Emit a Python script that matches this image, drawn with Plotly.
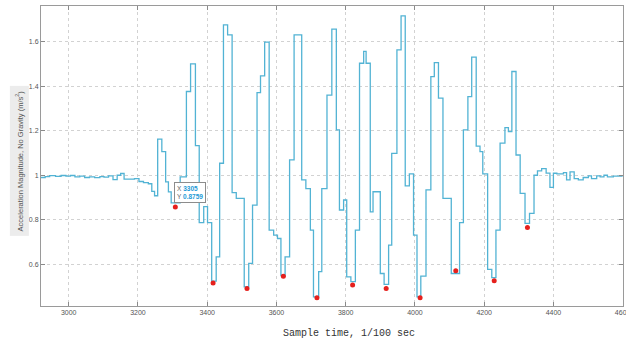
import plotly.graph_objects as go

# step change points (sample index) and the held level (m/s^2)
step_x = [2920, 2932, 2945, 2962, 2978, 2992, 3005, 3018, 3032, 3046, 3060, 3075, 3090, 3102, 3115,
          3128, 3140, 3150, 3160, 3190, 3203, 3216, 3230, 3240, 3248, 3257, 3269, 3280, 3288, 3296,
          3322, 3340, 3352, 3366, 3377, 3390, 3401, 3413, 3426, 3436, 3447, 3459, 3472, 3484, 3507,
          3520, 3531, 3544, 3554, 3566, 3579, 3592, 3603, 3613, 3625, 3638, 3651, 3673, 3685, 3698,
          3707, 3722, 3731, 3746, 3760, 3773, 3782, 3794, 3803, 3815, 3828, 3840, 3852, 3859, 3871,
          3879, 3900, 3911, 3924, 3933, 3948, 3960, 3972, 3984, 3996, 4006, 4017, 4032, 4046, 4056,
          4068, 4081, 4105, 4129, 4140, 4153, 4164, 4177, 4188, 4196, 4210, 4222, 4234, 4246, 4260,
          4270, 4280, 4292, 4304, 4318, 4331, 4344, 4354, 4366, 4379, 4390, 4400, 4410, 4429, 4438,
          4448, 4460, 4472, 4486, 4501, 4510, 4525, 4535, 4546, 4556, 4573, 4600]
step_y = [0.990, 0.994, 0.998, 0.995, 0.999, 0.996, 0.999, 0.993, 0.996, 0.990, 0.993, 0.989, 0.994, 0.992, 0.997,
          0.980, 1.000, 1.008, 0.983, 0.985, 0.972, 0.967, 0.962, 0.928, 0.908, 1.162, 1.106, 0.970, 0.925, 0.876,
          0.993, 1.376, 1.500, 1.133, 0.787, 0.859, 0.787, 0.525, 0.634, 1.054, 1.675, 1.630, 0.922, 0.896, 0.499,
          0.604, 0.866, 1.371, 1.446, 1.598, 0.754, 0.731, 0.716, 0.551, 0.634, 1.069, 1.630, 0.979, 0.940, 0.754,
          0.454, 0.567, 0.940, 1.360, 1.656, 1.204, 0.844, 0.889, 0.544, 0.522, 0.754, 1.503, 1.556, 1.503, 0.836,
          0.926, 0.559, 0.510, 0.686, 1.098, 1.563, 1.716, 0.952, 1.006, 0.731, 0.454, 0.547, 0.934, 1.443, 1.506,
          1.346, 0.896, 0.559, 0.787, 1.204, 1.353, 1.530, 1.131, 1.106, 1.006, 0.577, 0.540, 0.754, 1.144, 1.214,
          1.196, 1.466, 1.091, 0.919, 0.784, 0.829, 1.000, 1.020, 1.030, 1.010, 0.946, 1.009, 1.006, 1.012, 0.979,
          1.015, 0.985, 0.979, 0.990, 0.997, 0.985, 0.997, 0.993, 1.000, 0.993, 0.996, 0.996]

# detected minima (red dots)
min_x = [3308, 3417, 3515, 3620, 3717, 3820, 3917, 4015, 4118, 4229, 4325]
min_y = [0.858, 0.516, 0.492, 0.547, 0.450, 0.507, 0.492, 0.450, 0.571, 0.526, 0.765]

# data tip
tip_x = 3305
tip_y = 0.8759

x_tick_start, x_tick_step = 3000, 200
y_tick_start, y_tick_step = 0.6, 0.2

fig = go.Figure()
fig.add_trace(go.Scatter(x=step_x, y=step_y, mode="lines", line_shape="hv",
                         line=dict(color="#52b3d4", width=1.3), hoverinfo="skip"))
fig.add_trace(go.Scatter(x=min_x, y=min_y, mode="markers",
                         marker=dict(color="#e5201d", size=5), hoverinfo="skip"))

axis_common = dict(showline=True, linecolor="#9a9a9a", linewidth=1, mirror="ticks",
                   ticks="inside", ticklen=4, tickcolor="#8a8a8a",
                   showgrid=True, gridcolor="#d2d2d2", griddash="dot", gridwidth=1,
                   zeroline=False, ticklabeloverflow="allow", automargin=False,
                   tickfont=dict(family="Liberation Sans", size=7, color="#555555"))

fig.update_xaxes(range=[2920, 4601], tickmode="linear", tick0=x_tick_start, dtick=x_tick_step, **axis_common)
fig.update_yaxes(range=[0.413, 1.76], tickmode="linear", tick0=y_tick_start, dtick=y_tick_step, **axis_common)

fig.add_annotation(x=tip_x, y=tip_y, xref="x", yref="y", xanchor="left", yanchor="bottom",
                   showarrow=False, align="left", bgcolor="white", bordercolor="#8c8c8c",
                   borderwidth=1, borderpad=2,
                   font=dict(family="Liberation Sans", size=6.5, color="#666666"),
                   text="X <span style='color:#1c9ad6'><b>%d</b></span><br>Y <span style='color:#1c9ad6'><b>%.4f</b></span>" % (tip_x, tip_y))

fig.add_annotation(x=-0.038, y=0.485, xref="paper", yref="paper", xanchor="center", yanchor="middle",
                   textangle=-90, showarrow=False, bgcolor="#ececec", borderpad=4,
                   font=dict(family="Liberation Sans", size=7.5, color="#555555"),
                   text="Acceleration Magnitude, No Gravity (m/s<sup>2</sup>)")

fig.add_annotation(x=0.53, y=-0.068, xref="paper", yref="paper", xanchor="center", yanchor="top",
                   showarrow=False,
                   font=dict(family="Liberation Mono", size=10, color="#333333"),
                   text="Sample time, 1/100 sec")

fig.update_layout(width=626, height=340, margin=dict(l=41, r=3, t=6, b=34, autoexpand=False),
                  paper_bgcolor="white", plot_bgcolor="white", showlegend=False)

fig.write_html("out.html")
